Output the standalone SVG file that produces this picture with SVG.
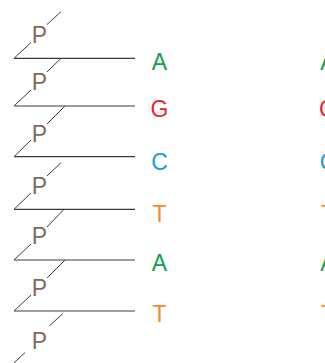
<svg xmlns="http://www.w3.org/2000/svg" width="325" height="363" viewBox="0 0 325 363">
<style>
.bb{stroke:#3a3a3a;stroke-width:1.2;fill:none}
.dg{stroke:#3a3a3a;stroke-width:1;fill:none}
.p{font-family:"Liberation Sans",Arial,sans-serif;font-size:23px;fill:#7d6a62;text-anchor:middle}
.b{font-family:"Liberation Sans",Arial,sans-serif;font-size:23px;text-anchor:middle}
.A{fill:#10a04c}.G{fill:#ec2227}.C{fill:#1a9be0}.T{fill:#f78a2b}
</style>
<rect width="325" height="363" fill="#ffffff"/>
<g id="connectors">
<line class="bb" x1="14" y1="58.3" x2="135" y2="58.3"/>
<line class="bb" x1="14" y1="106" x2="135" y2="106"/>
<line class="bb" x1="14" y1="156.7" x2="135" y2="156.7"/>
<line class="bb" x1="14" y1="209.3" x2="135" y2="209.3"/>
<line class="bb" x1="14" y1="260" x2="135" y2="260"/>
<line class="bb" x1="14" y1="311" x2="135" y2="311"/>
<path class="dg" d="M14,58.3L31,42.5M47,24.5L61,11.7"/>
<path class="dg" d="M14,106L31,90M47,72L61,58.3"/>
<path class="dg" d="M14,156.7L31,140M47,124L65,106"/>
<path class="dg" d="M14,209.3L31,193M47,176L61,162.7"/>
<path class="dg" d="M14,260L31,244M47,227L64,209.3"/>
<path class="dg" d="M14,311L31,295M47,278L65,260"/>
<path class="dg" d="M14,362.7L25,352.7M49.3,326L62.7,313.7"/>
</g>
<g id="p1"><text class="p" x="39.5" y="43">P</text></g>
<g id="p2"><text class="p" x="39.5" y="90">P</text></g>
<g id="p3"><text class="p" x="39.5" y="142">P</text></g>
<g id="p4"><text class="p" x="39.5" y="194">P</text></g>
<g id="p5"><text class="p" x="39.5" y="244">P</text></g>
<g id="p6"><text class="p" x="39.5" y="296">P</text></g>
<g id="p7"><text class="p" x="39.5" y="349">P</text></g>
<g id="b1"><text class="b A" x="159.5" y="69.5">A</text></g>
<g id="b2"><text class="b G" x="159.5" y="117">G</text></g>
<g id="b3"><text class="b C" x="159.5" y="169.5">C</text></g>
<g id="b4"><text class="b T" x="159.5" y="221.5">T</text></g>
<g id="b5"><text class="b A" x="159.5" y="271">A</text></g>
<g id="b6"><text class="b T" x="159.5" y="322">T</text></g>
<g id="r1"><text class="b A" x="328" y="69.5">A</text></g>
<g id="r2"><text class="b G" x="328" y="117">G</text></g>
<g id="r3"><text class="b C" x="328" y="169.5">C</text></g>
<g id="r4"><text class="b T" x="328" y="221.5">T</text></g>
<g id="r5"><text class="b A" x="328" y="271">A</text></g>
<g id="r6"><text class="b T" x="328" y="322">T</text></g>
</svg>
